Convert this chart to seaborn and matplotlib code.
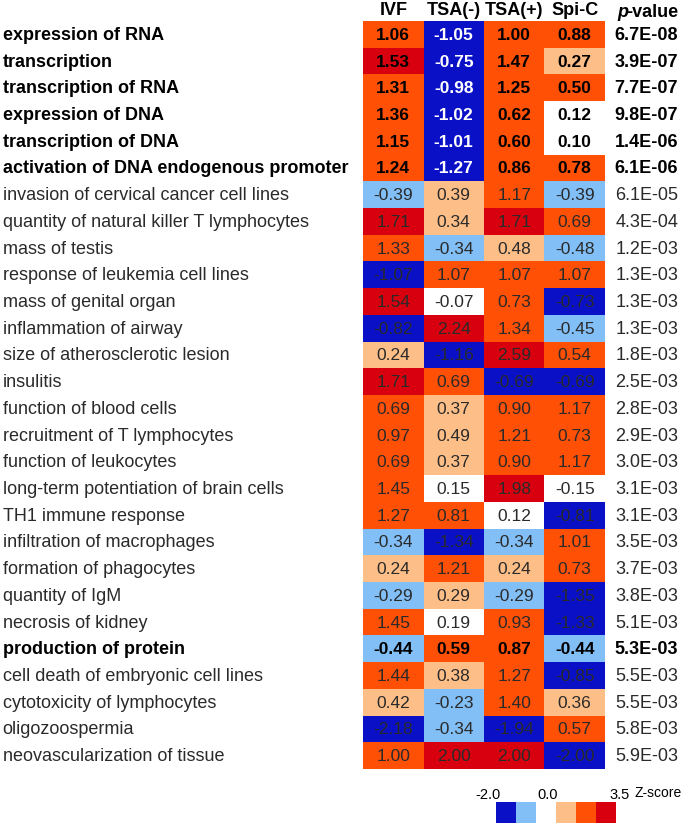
import numpy as np
import pandas as pd
import matplotlib
matplotlib.use('Agg')
import matplotlib.pyplot as plt
from matplotlib.colors import ListedColormap, BoundaryNorm
import seaborn as sns

terms = [
    'expression of RNA', 'transcription', 'transcription of RNA',
    'expression of DNA', 'transcription of DNA',
    'activation of DNA endogenous promoter',
    'invasion of cervical cancer cell lines',
    'quantity of natural killer T lymphocytes', 'mass of testis',
    'response of leukemia cell lines', 'mass of genital organ',
    'inflammation of airway', 'size of atherosclerotic lesion', 'insulitis',
    'function of blood cells', 'recruitment of T lymphocytes',
    'function of leukocytes', 'long-term potentiation of brain cells',
    'TH1 immune response', 'infiltration of macrophages',
    'formation of phagocytes', 'quantity of IgM', 'necrosis of kidney',
    'production of protein', 'cell death of embryonic cell lines',
    'cytotoxicity of lymphocytes', 'oligozoospermia',
    'neovascularization of tissue',
]
groups = ['IVF', 'TSA(-)', 'TSA(+)', 'Spi-C']

ivf = [1.06, 1.53, 1.31, 1.36, 1.15, 1.24, -0.39, 1.71, 1.33, -1.07, 1.54,
       -0.82, 0.24, 1.71, 0.69, 0.97, 0.69, 1.45, 1.27, -0.34, 0.24, -0.29,
       1.45, -0.44, 1.44, 0.42, -2.18, 1.00]
tsa_minus = [-1.05, -0.75, -0.98, -1.02, -1.01, -1.27, 0.39, 0.34, -0.34,
             1.07, -0.07, 2.24, -1.16, 0.69, 0.37, 0.49, 0.37, 0.15, 0.81,
             -1.34, 1.21, 0.29, 0.19, 0.59, 0.38, -0.23, -0.34, 2.00]
tsa_plus = [1.00, 1.47, 1.25, 0.62, 0.60, 0.86, 1.17, 1.71, 0.48, 1.07, 0.73,
            1.34, 2.59, -0.69, 0.90, 1.21, 0.90, 1.98, 0.12, -0.34, 0.24,
            -0.29, 0.93, 0.87, 1.27, 1.40, -1.94, 2.00]
spi_c = [0.88, 0.27, 0.50, 0.12, 0.10, 0.78, -0.39, 0.69, -0.48, 1.07, -0.73,
         -0.45, 0.54, -0.69, 1.17, 0.73, 1.17, -0.15, -0.81, 1.01, 0.73,
         -1.35, -1.33, -0.44, -0.85, 0.36, 0.57, -2.00]
p_values = ['6.7E-08', '3.9E-07', '7.7E-07', '9.8E-07', '1.4E-06', '6.1E-06',
            '6.1E-05', '4.3E-04', '1.2E-03', '1.3E-03', '1.3E-03', '1.3E-03',
            '1.8E-03', '2.5E-03', '2.8E-03', '2.9E-03', '3.0E-03', '3.1E-03',
            '3.1E-03', '3.5E-03', '3.7E-03', '3.8E-03', '5.1E-03', '5.3E-03',
            '5.5E-03', '5.5E-03', '5.8E-03', '5.9E-03']
bold_terms = terms[:6] + ['production of protein']

# binned z-score colours
bin_edges = [-5, -0.5, -0.2, 0.2, 0.5, 1.5, 5]
bin_colors = ['#0a10c6', '#82bff6', '#ffffff', '#fdbf87', '#ff5005', '#d8000f']
legend_levels = [-1.0, -0.35, 0.0, 0.35, 1.0, 2.0]

FS = 13


def main():
    plt.rcParams['font.family'] = ['Liberation Sans', 'DejaVu Sans']
    df = pd.DataFrame({'IVF': ivf, 'TSA(-)': tsa_minus,
                       'TSA(+)': tsa_plus, 'Spi-C': spi_c}, index=terms)
    cmap = ListedColormap(bin_colors)
    norm = BoundaryNorm(bin_edges, cmap.N)

    fig = plt.figure(figsize=(6.85, 8.28), dpi=100)
    ax = fig.add_axes([0.530, 0.070, 0.353, 0.9034])
    sns.heatmap(df, cmap=cmap, norm=norm, annot=True, fmt='.2f', cbar=False,
                ax=ax, annot_kws={'fontsize': 12.5})

    ncol = len(groups)
    for k, t in enumerate(ax.texts):
        r, c = divmod(k, ncol)
        is_bold = terms[r] in bold_terms
        t.set_fontweight('bold' if is_bold else 'normal')
        if r < 6 and c == 1:
            t.set_color('white')
        else:
            t.set_color('black' if is_bold else '#2a2a2a')

    ax.xaxis.tick_top()
    ax.set_xticklabels(groups, fontsize=FS, fontweight='bold', rotation=0)
    ax.tick_params(axis='both', length=0, pad=2)
    ax.set_yticks([])
    ax.set_xlabel('')
    ax.set_ylabel('')

    trans = matplotlib.transforms.blended_transform_factory(
        fig.transFigure, ax.transData)
    for i, term in enumerate(terms):
        is_bold = term in bold_terms
        ax.text(0.004, i + 0.5, term, transform=trans, ha='left', va='center',
                fontsize=FS, fontweight='bold' if is_bold else 'normal',
                color='black' if is_bold else '#2a2a2a')
        ax.text(0.990, i + 0.5, p_values[i], transform=trans, ha='right',
                va='center', fontsize=FS,
                fontweight='bold' if is_bold else 'normal',
                color='black' if is_bold else '#2a2a2a')

    # p-value header: italic "p" placed just left of "-value"
    hdr_y = 0.9855
    val = fig.text(0.990, hdr_y, '-value', ha='right', va='center',
                   fontsize=FS, fontweight='bold')
    fig.canvas.draw()
    bb = val.get_window_extent().transformed(fig.transFigure.inverted())
    fig.text(bb.x0 + 0.003, hdr_y, 'p', ha='right', va='center', fontsize=FS,
             fontweight='bold', fontstyle='italic')

    # legend strip
    lax = fig.add_axes([0.724, 0.0045, 0.176, 0.0255])
    sns.heatmap(np.array([legend_levels]), cmap=cmap, norm=norm, cbar=False,
                ax=lax, xticklabels=False, yticklabels=False)
    lax.set_xlabel('')
    fig.text(0.712, 0.040, '-2.0', ha='center', va='center', fontsize=10.5)
    fig.text(0.800, 0.040, '0.0', ha='center', va='center', fontsize=10.5)
    fig.text(0.905, 0.040, '3.5', ha='center', va='center', fontsize=10.5)
    fig.text(0.927, 0.042, 'Z-score', ha='left', va='center', fontsize=10)

    fig.savefig('out.png', dpi=100)


if __name__ == '__main__':
    main()
